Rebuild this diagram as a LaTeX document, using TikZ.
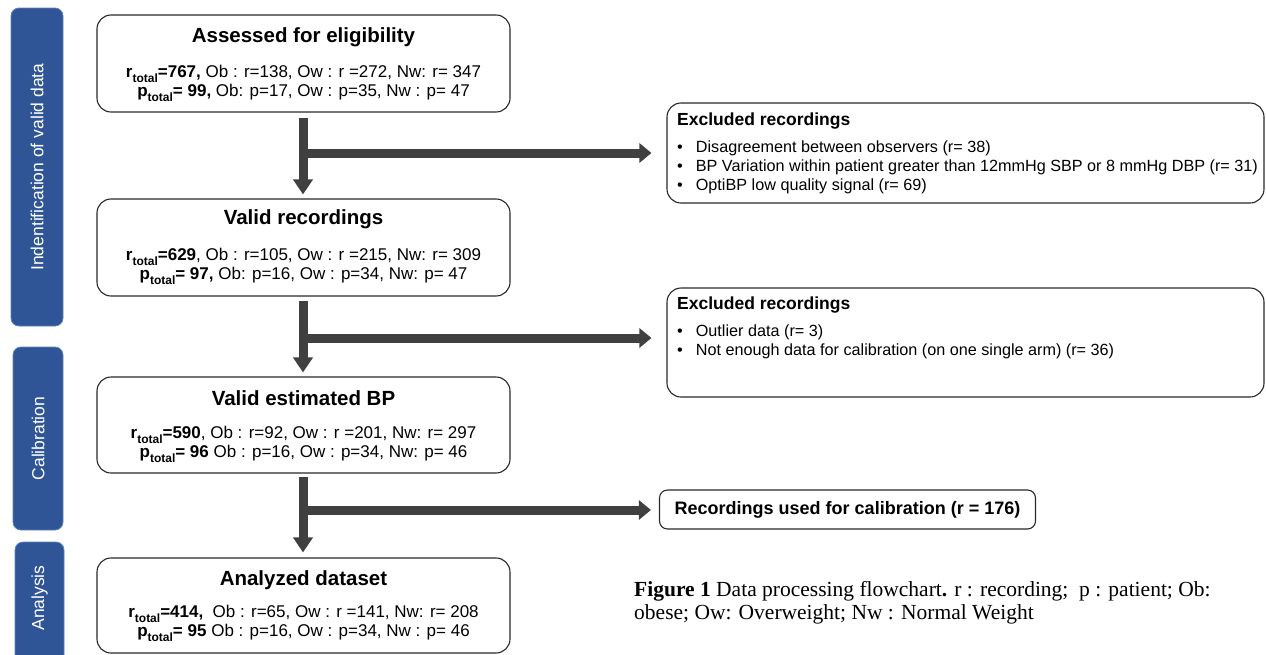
\documentclass[tikz,border=0pt]{standalone}
\usepackage{fontspec}
\setmainfont{Liberation Sans}
\newfontfamily\capfont{Liberation Serif}
\usetikzlibrary{arrows.meta}
\definecolor{barblue}{RGB}{47,85,151}
\definecolor{barrim}{RGB}{95,130,190}
\definecolor{arrgray}{RGB}{64,64,64}
\definecolor{boxline}{RGB}{40,40,40}
\newcommand\tsub[1]{\textbf{#1}\raisebox{-5pt}{\fontsize{12}{12}\selectfont\textbf{total}}}
\tikzset{
  mainbox/.style={draw=boxline, line width=1.1pt, rounded corners=14pt, fill=white, minimum width=413pt, inner sep=0pt},
  sidebar/.style={fill=barblue, draw=barrim, line width=0.8pt, rounded corners=8pt},
  sidelabel/.style={text=white, rotate=90, font=\fontsize{17.5}{17.5}\selectfont},
  titletext/.style={anchor=base, font=\fontsize{20.5}{20.5}\selectfont\bfseries},
  bodytext/.style={anchor=base, font=\fontsize{17}{17}\selectfont},
  exbox/.style={draw=boxline, line width=1.1pt, rounded corners=14pt, fill=white, inner sep=0pt},
  extitle/.style={anchor=base west, font=\fontsize{17.5}{17.5}\selectfont\bfseries, inner sep=0pt},
  exitem/.style={anchor=base west, font=\fontsize{16.2}{16.2}\selectfont, inner sep=0pt},
  flow/.style={draw=arrgray, line width=9pt, -{Triangle[length=15pt,width=19pt]}},
  branch/.style={draw=arrgray, line width=9pt, -{Triangle[length=12pt,width=19pt]}},
}
\begin{document}
\begin{tikzpicture}[x=1pt,y=-1pt]
\useasboundingbox (0,0) rectangle (1266,654);
\clip (0,0) rectangle (1266,654);

% side bars
\node[sidebar, minimum width=52pt, minimum height=318pt] (s1) at (37,167) {};
\node[sidelabel] (s1l) at (s1.center) {Indentification of valid data};
\node[sidebar, minimum width=50pt, minimum height=183pt] (s2) at (38,438.5) {};
\node[sidelabel] (s2l) at (s2.center) {Calibration};
\node[sidebar, minimum width=49pt, minimum height=130pt] (s3) at (39.5,607) {};
\node[sidelabel] (s3l) at (39.5,598) {Analysis};

% main boxes
\node[mainbox, minimum height=97pt] (b1) at (303.5,63.5) {};
\node[titletext] (b1t) at (303.5,42) {Assessed for eligibility};
\node[bodytext] (b1a) at (303.5,77) {\tsub{r}\textbf{=767,} Ob : r=138, Ow : r =272, Nw: r= 347};
\node[bodytext] (b1b) at (303.5,96) {\tsub{p}\textbf{= 99,} Ob: p=17, Ow : p=35, Nw : p= 47};

\node[mainbox, minimum height=97pt] (b2) at (303.5,247.5) {};
\node[titletext] (b2t) at (303.5,224) {Valid recordings};
\node[bodytext] (b2a) at (303.5,260) {\tsub{r}\textbf{=629}, Ob : r=105, Ow : r =215, Nw: r= 309};
\node[bodytext] (b2b) at (303.5,279) {\tsub{p}\textbf{= 97,} Ob: p=16, Ow : p=34, Nw: p= 47};

\node[mainbox, minimum height=96pt] (b3) at (303.5,425) {};
\node[titletext] (b3t) at (303.5,405) {Valid estimated BP};
\node[bodytext] (b3a) at (303.5,438) {\tsub{r}\textbf{=590}, Ob : r=92, Ow : r =201, Nw: r= 297};
\node[bodytext] (b3b) at (303.5,457) {\tsub{p}\textbf{= 96} Ob : p=16, Ow : p=34, Nw: p= 46};

\node[mainbox, minimum height=95pt] (b4) at (303.5,605.5) {};
\node[titletext] (b4t) at (303.5,585) {Analyzed dataset};
\node[bodytext] (b4a) at (303.5,617) {\tsub{r}\textbf{=414,}\ \ Ob : r=65, Ow : r =141, Nw: r= 208};
\node[bodytext] (b4b) at (303.5,636) {\tsub{p}\textbf{= 95} Ob : p=16, Ow : p=34, Nw : p= 46};

% excluded boxes
\node[exbox, minimum width=597pt, minimum height=100pt] (e1) at (965.5,153) {};
\node[extitle] (e1t) at (677,125) {Excluded recordings};
\node[exitem] (e1a) at (677,152) {•\hspace{13pt}Disagreement between observers (r= 38)};
\node[exitem] (e1b) at (677,171) {•\hspace{13pt}BP Variation within patient greater than 12mmHg SBP or 8 mmHg DBP (r= 31)};
\node[exitem] (e1c) at (677,190) {•\hspace{13pt}OptiBP low quality signal (r= 69)};

\node[exbox, minimum width=597pt, minimum height=109pt] (e2) at (965.5,342.5) {};
\node[extitle] (e2t) at (677,309) {Excluded recordings};
\node[exitem] (e2a) at (677,336) {•\hspace{13pt}Outlier data (r= 3)};
\node[exitem] (e2b) at (677,355) {•\hspace{13pt}Not enough data for calibration (on one single arm) (r= 36)};

\node[exbox, rounded corners=8pt, minimum width=376pt, minimum height=39pt, font=\fontsize{18}{18}\selectfont\bfseries] (rc) at (847.5,509.5) {Recordings used for calibration (r = 176)};

% arrows
\coordinate (j1) at (303,153);
\coordinate (j2) at (303,338);
\coordinate (j3) at (303,510);
\draw[flow, shorten <=5pt, shorten >=4pt] (b1.south -| j1) -- (b2.north -| j1);
\draw[flow, shorten <=4pt, shorten >=4pt] (b2.south -| j2) -- (b3.north -| j2);
\draw[flow, shorten <=3pt, shorten >=5pt] (b3.south -| j3) -- (b4.north -| j3);
\draw[branch, shorten >=15pt] (j1) -- (e1.west |- j1);
\draw[branch, shorten >=15pt] (j2) -- (e2.west |- j2);
\draw[branch, shorten >=8pt] (j3) -- (rc.west |- j3);

% caption
\node[anchor=base west, inner sep=0pt, font=\capfont\fontsize{21.5}{21.5}\selectfont] (cap1) at (634,596) {\textbf{Figure 1} Data processing flowchart\textbf{.} r : recording;\ \ p : patient; Ob:};
\node[anchor=base west, inner sep=0pt, font=\capfont\fontsize{21.5}{21.5}\selectfont] (cap2) at (634,619) {obese; Ow: Overweight; Nw : Normal Weight};
\end{tikzpicture}
\end{document}
